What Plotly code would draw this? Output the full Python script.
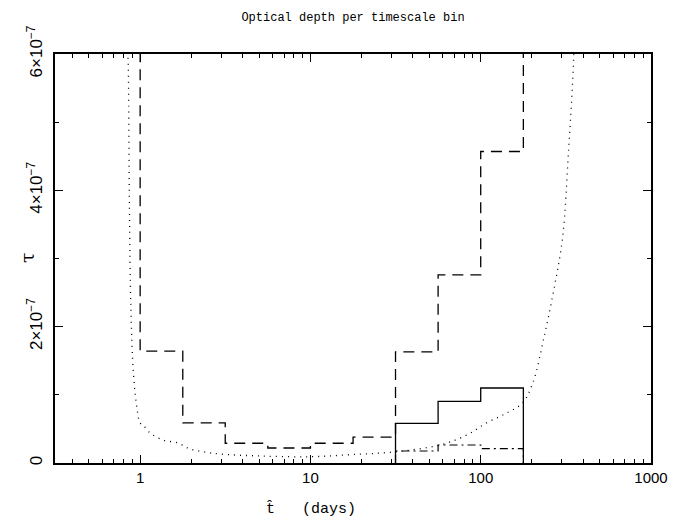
import plotly.graph_objects as go

# ---- data ----
bin_edges = [1.0, 1.78, 3.16, 5.62, 10.0, 17.8, 31.6, 56.2, 100.0, 178.0]
dashed_vals = [1.64e-7, 5.9e-8, 2.9e-8, 2.2e-8, 2.9e-8, 3.8e-8, 1.63e-7, 2.76e-7, 4.57e-7]
dashed_offscale = 1.0e-6  # value beyond the top of the plot on both ends

solid_edges = [31.6, 56.2, 100.0, 178.0]
solid_vals = [5.8e-8, 9.05e-8, 1.10e-7]

dashdot_edges = [31.6, 56.2, 100.0, 178.0]
dashdot_vals = [1.76e-8, 2.64e-8, 2.1e-8]

dotted_x = [0.83, 0.845, 0.85, 0.865, 0.882, 0.913, 0.956, 1.0, 1.041, 1.145, 1.364, 1.67,
            1.965, 2.40, 2.94, 5.06, 10.0, 17.1, 30.5, 57.5, 82.8, 108, 142, 176, 202,
            237, 272, 303, 328, 351, 356]
dotted_y = [7.0e-7, 6.0e-7, 5.91e-7, 3.76e-7, 2.29e-7, 1.32e-7, 8.2e-8, 5.87e-8, 5.57e-8,
            4.4e-8, 3.37e-8, 2.93e-8, 2.05e-8, 1.61e-8, 1.32e-8, 1.03e-8, 9.2e-9, 1.22e-8,
            1.61e-8, 2.64e-8, 4.1e-8, 5.87e-8, 7.33e-8, 8.8e-8, 1.17e-7, 1.88e-7, 2.61e-7,
            3.32e-7, 4.59e-7, 5.91e-7, 7.0e-7]

x_tickvals = [1, 10, 100, 1000]
x_ticktext = ["1", "10", "100", "1000"]
y_tickvals = [0, 2e-7, 4e-7, 6e-7]
y_ticktext = ["0", "2×10<sup>−7</sup>", "4×10<sup>−7</sup>", "6×10<sup>−7</sup>"]

title_text = "Optical depth per timescale bin"
xlabel_text = "t\u0302   (days)"
ylabel_text = "τ"


def steps(edges, vals, start, end):
    xs, ys = [edges[0]], [start]
    for i, v in enumerate(vals):
        xs += [edges[i], edges[i + 1]]
        ys += [v, v]
    xs.append(edges[-1])
    ys.append(end)
    return xs, ys


fig = go.Figure()

dx, dy = steps(bin_edges, dashed_vals, dashed_offscale, dashed_offscale)
fig.add_trace(go.Scatter(x=dx, y=dy, mode="lines",
                         line=dict(color="black", width=1.3, dash="11px,7px")))

sx, sy = steps(solid_edges, solid_vals, 0, 0)
fig.add_trace(go.Scatter(x=sx, y=sy, mode="lines",
                         line=dict(color="black", width=1.3)))

ddx, ddy = steps(dashdot_edges, dashdot_vals, 0, 0)
fig.add_trace(go.Scatter(x=ddx, y=ddy, mode="lines",
                         line=dict(color="black", width=1.2, dash="8px,4px,2px,4px")))

fig.add_trace(go.Scatter(x=dotted_x, y=dotted_y, mode="lines", line_shape="spline",
                         line=dict(color="black", width=1.3, dash="1px,5px")))

x_minor = [m * 10 ** k for k in range(-1, 3) for m in range(2, 10)]
x_minor = [v for v in x_minor if 0.316 < v < 1000]

fig.update_xaxes(type="log", range=[-0.5, 3],
                 tickvals=x_tickvals, ticktext=x_ticktext,
                 ticks="inside", ticklen=8, tickwidth=1.2, tickcolor="black",
                 minor=dict(ticks="inside", ticklen=4, tickwidth=1.2, tickcolor="black",
                            tickvals=x_minor),
                 showline=True, linecolor="black", linewidth=1.5, mirror="ticks",
                 showgrid=False, zeroline=False,
                 tickfont=dict(family="Liberation Sans", size=15, color="black"))

fig.update_yaxes(range=[0, 6e-7],
                 tickvals=y_tickvals, ticktext=y_ticktext, tickangle=-90,
                 ticks="inside", ticklen=8, tickwidth=1.2, tickcolor="black",
                 minor=dict(ticks="inside", ticklen=4, tickwidth=1.2, tickcolor="black",
                            dtick=1e-7, tick0=0),
                 showline=True, linecolor="black", linewidth=1.5, mirror="ticks",
                 showgrid=False, zeroline=False, ticklabelstandoff=4,
                 tickfont=dict(family="Liberation Sans", size=17, color="black"))

fig.update_layout(
    width=682, height=521,
    margin=dict(l=55, r=31, t=54, b=58),
    paper_bgcolor="white", plot_bgcolor="white",
    showlegend=False,
    title=dict(text=title_text, x=0.5, xref="paper", y=1 - 17 / 521, yref="container",
               xanchor="center", yanchor="middle",
               font=dict(family="Liberation Mono", size=12, color="black")),
    annotations=[
        dict(text=xlabel_text, xref="paper", yref="paper",
             x=(311 - 55) / 596, y=(463 - 509) / 409, showarrow=False,
             xanchor="center", yanchor="middle",
             font=dict(family="Liberation Mono", size=15, color="black")),
        dict(text=ylabel_text, xref="paper", yref="paper",
             x=(27 - 55) / 596, y=(463 - 258) / 409, showarrow=False,
             textangle=-90, xanchor="center", yanchor="middle",
             font=dict(family="DejaVu Serif", size=19, color="black")),
    ],
)

fig.write_html("out.html")
